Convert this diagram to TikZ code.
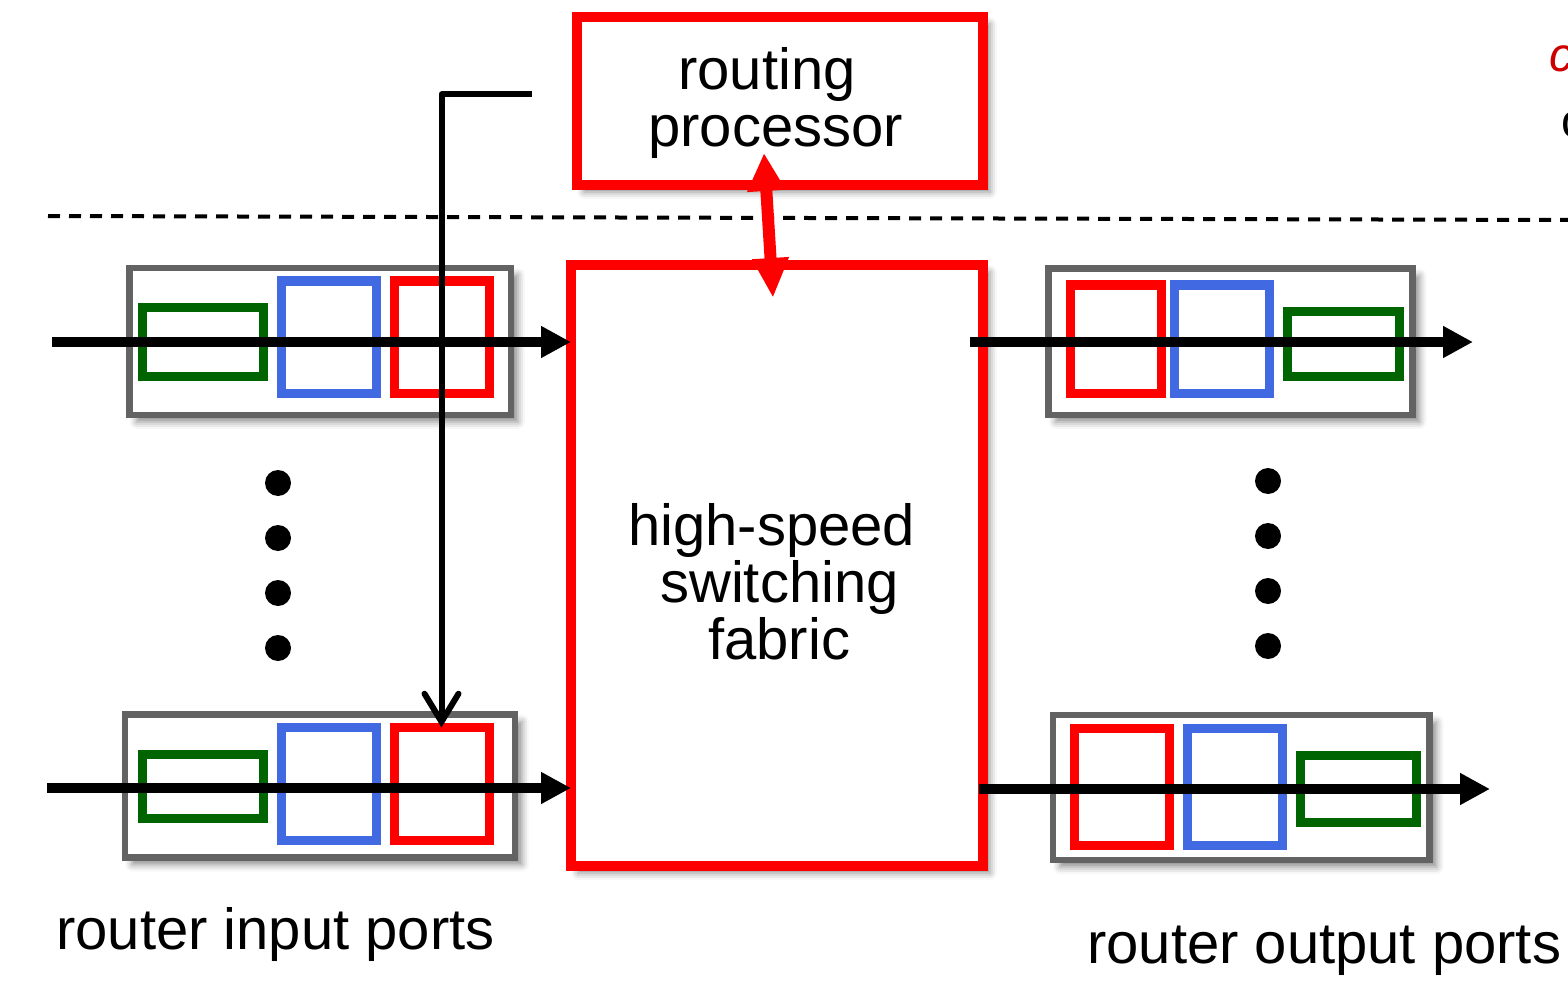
\documentclass[tikz,border=0pt]{standalone}
\usepackage{fontspec}
\setmainfont{Liberation Sans}
\usetikzlibrary{arrows.meta,calc,fit,shadows.blur}
\definecolor{portgray}{HTML}{636363}
\definecolor{qgreen}{HTML}{006400}
\definecolor{qblue}{HTML}{4169E1}
\definecolor{qred}{HTML}{FF0000}
\definecolor{notered}{HTML}{CC0000}
\tikzset{
  softshadow/.style={blur shadow={shadow xshift=7pt, shadow yshift=-7pt,
      shadow blur radius=7pt, shadow opacity=45}},
  portbox/.style={draw=portgray, line width=6.5pt, fill=white,
      inner sep=0pt, outer sep=0pt, softshadow},
  redbox/.style={draw=qred, line width=10pt, fill=white,
      inner sep=0pt, outer sep=0pt, softshadow},
  pkt/.style={draw, line width=9pt, inner sep=0pt, outer sep=0pt},
  pktg/.style={pkt, draw=qgreen},
  pktb/.style={pkt, draw=qblue},
  pktr/.style={pkt, draw=qred},
  flow/.style={line width=10pt, -{Triangle[length=30pt,width=30pt]}},
  ctrl/.style={line width=6pt, line join=round,
      -{Straight Barb[length=28pt,width=34pt,line cap=round]}},
  redlink/.style={draw=qred, line width=12pt,
      {Triangle[length=38pt,width=36pt]}-{Triangle[length=40pt,width=34pt]}},
  dot/.style={circle, fill=black, inner sep=0pt, minimum size=26pt},
  lbl/.style={inner sep=0pt, anchor=base west, font=\fontsize{58}{58}\selectfont},
  smalllbl/.style={inner sep=0pt, anchor=base west, font=\fontsize{48}{48}\selectfont},
}
\begin{document}
\begin{tikzpicture}[x=1pt,y=-1pt]
\useasboundingbox (0,0) rectangle (1568,1000);

% control / data plane separator
\draw[line width=4pt, dash pattern=on 12pt off 9pt] (48,216) -- (1568,220);

% routing processor and switching fabric
\node[redbox, fit={(577,17) (983,185)}] (rp) {};
\node[redbox, fit={(571,265) (983,866)}] (fab) {};

% input ports
\node[portbox, fit={(129.5,268) (511,415)}] (in1) {};
\node[pktg, fit={(142,307) (263.5,376.5)}] (in1g) {};
\node[pktb, fit={(281,281) (376.5,393)}] (in1b) {};
\node[pktr, fit={(394,281) (489,393)}] (in1r) {};

\node[portbox, fit={(125,714.5) (515,857.5)}] (in2) {};
\node[pktg, fit={(142,754) (263.5,818)}] (in2g) {};
\node[pktb, fit={(281.5,727.5) (376.5,840)}] (in2b) {};
\node[pktr, fit={(394,727.5) (489,840)}] (in2r) {};

% output ports
\node[portbox, fit={(1048.5,268.5) (1412.5,415)}] (out1) {};
\node[pktr, fit={(1070,285) (1161,393)}] (out1r) {};
\node[pktb, fit={(1174,285) (1269,393)}] (out1b) {};
\node[pktg, fit={(1287,311.7) (1399,376)}] (out1g) {};

\node[portbox, fit={(1053,715) (1429.5,860)}] (out2) {};
\node[pktr, fit={(1074.5,728) (1169,845)}] (out2r) {};
\node[pktb, fit={(1187.5,728) (1282,845)}] (out2b) {};
\node[pktg, fit={(1300,755.5) (1416.5,822.5)}] (out2g) {};

% ellipsis dots
\node[dot] (dl1) at (278,483) {};
\node[dot] (dl2) at (278,538) {};
\node[dot] (dl3) at (278,593) {};
\node[dot] (dl4) at (278,648) {};
\node[dot] (dr1) at (1268,481) {};
\node[dot] (dr2) at (1268,536) {};
\node[dot] (dr3) at (1268,591) {};
\node[dot] (dr4) at (1268,646) {};

% packet flows
\coordinate (i1s) at (52,342);
\coordinate (i2s) at (47,788);
\coordinate (o1s) at (970,342);
\coordinate (o1e) at (1473,342);
\coordinate (o2s) at (979,789);
\coordinate (o2e) at (1490,789);
\draw[flow] (i1s) -- (i1s -| fab.west);
\draw[flow] (i2s) -- (i2s -| fab.west);
\draw[flow] (o1s) -- (o1e);
\draw[flow] (o2s) -- (o2e);

% forwarding table download
\coordinate (ctl) at (532,94.5);
\draw[ctrl] (ctl) -| (in2r.north);

% processor <-> fabric
\draw[redlink] ($(rp.south)+(-16,-32)$) -- ($(fab.north)+(-4,33)$);

% labels
\node[lbl] (t1) at (678,90) {routing};
\node[lbl] (t2) at (648,147) {processor};
\node[lbl] (t3) at (628,545) {high-speed};
\node[lbl] (t4) at (660,602) {switching};
\node[lbl] (t5) at (708,659) {fabric};
\node[lbl] (t6) at (56,949) {router input ports};
\node[lbl] (t7) at (1087,963) {router output ports};
\node[smalllbl, text=notered, font=\itshape\fontsize{48}{48}\selectfont] (t8) at (1549,72) {c};
\node[smalllbl] (t9) at (1561,138) {o};
\end{tikzpicture}
\end{document}
